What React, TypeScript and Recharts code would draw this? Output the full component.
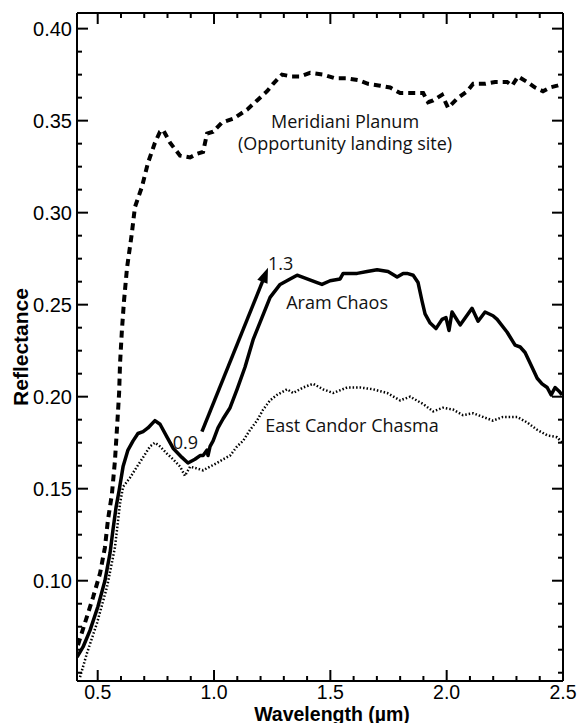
import { LineChart, Line, XAxis, YAxis, ReferenceLine, ReferenceDot } from 'recharts';

// Meridiani Planum (Opportunity landing site) - dashed
const meridianiWl = [0.415, 0.445, 0.48, 0.51, 0.531, 0.544, 0.561, 0.574, 0.583, 0.592, 0.596, 0.604, 0.613, 0.626, 0.647, 0.66, 0.69, 0.716, 0.746, 0.768, 0.781, 0.811, 0.854, 0.897, 0.927, 0.953, 0.97, 0.996, 1.034, 1.082, 1.142, 1.185, 1.228, 1.254, 1.292, 1.335, 1.37, 1.413, 1.469, 1.52, 1.572, 1.619, 1.662, 1.714, 1.757, 1.8, 1.843, 1.899, 1.92, 1.942, 1.98, 2.006, 2.045, 2.088, 2.114, 2.165, 2.208, 2.26, 2.281, 2.307, 2.346, 2.38, 2.414, 2.444, 2.475, 2.5];
const meridianiRefl = [0.065, 0.077, 0.091, 0.104, 0.118, 0.133, 0.147, 0.165, 0.183, 0.202, 0.218, 0.236, 0.252, 0.27, 0.289, 0.303, 0.314, 0.327, 0.338, 0.344, 0.345, 0.338, 0.331, 0.33, 0.332, 0.333, 0.343, 0.344, 0.349, 0.351, 0.356, 0.361, 0.366, 0.37, 0.375, 0.374, 0.374, 0.376, 0.375, 0.373, 0.373, 0.372, 0.37, 0.369, 0.368, 0.365, 0.365, 0.365, 0.36, 0.361, 0.364, 0.357, 0.362, 0.366, 0.37, 0.37, 0.371, 0.371, 0.369, 0.374, 0.371, 0.368, 0.366, 0.368, 0.369, 0.37];

// Aram Chaos - solid
const aramWl = [0.411, 0.437, 0.467, 0.501, 0.531, 0.553, 0.566, 0.579, 0.592, 0.609, 0.63, 0.652, 0.673, 0.695, 0.716, 0.746, 0.768, 0.798, 0.824, 0.862, 0.888, 0.918, 0.94, 0.953, 0.97, 0.974, 0.983, 0.996, 1.017, 1.039, 1.069, 1.099, 1.133, 1.168, 1.206, 1.241, 1.284, 1.327, 1.357, 1.4, 1.443, 1.464, 1.499, 1.542, 1.555, 1.615, 1.658, 1.701, 1.748, 1.787, 1.813, 1.83, 1.856, 1.877, 1.894, 1.907, 1.929, 1.954, 1.98, 1.997, 2.01, 2.023, 2.058, 2.109, 2.135, 2.165, 2.199, 2.217, 2.26, 2.294, 2.316, 2.337, 2.367, 2.389, 2.41, 2.432, 2.449, 2.466, 2.483, 2.496];
const aramRefl = [0.0585, 0.064, 0.073, 0.086, 0.1, 0.115, 0.128, 0.14, 0.149, 0.162, 0.171, 0.176, 0.18, 0.181, 0.183, 0.187, 0.185, 0.178, 0.172, 0.167, 0.164, 0.166, 0.168, 0.168, 0.171, 0.168, 0.173, 0.176, 0.183, 0.188, 0.194, 0.204, 0.216, 0.231, 0.243, 0.254, 0.261, 0.264, 0.266, 0.264, 0.262, 0.261, 0.263, 0.264, 0.267, 0.267, 0.268, 0.269, 0.268, 0.265, 0.267, 0.267, 0.266, 0.262, 0.252, 0.245, 0.24, 0.237, 0.242, 0.243, 0.236, 0.246, 0.239, 0.248, 0.241, 0.246, 0.244, 0.242, 0.235, 0.228, 0.227, 0.224, 0.216, 0.21, 0.207, 0.205, 0.201, 0.205, 0.203, 0.201];

// East Candor Chasma - dotted
const candorWl = [0.424, 0.454, 0.497, 0.54, 0.574, 0.596, 0.609, 0.639, 0.669, 0.695, 0.725, 0.746, 0.768, 0.798, 0.824, 0.854, 0.875, 0.897, 0.927, 0.953, 0.983, 1.013, 1.039, 1.069, 1.099, 1.125, 1.155, 1.185, 1.211, 1.241, 1.271, 1.314, 1.34, 1.383, 1.426, 1.469, 1.512, 1.572, 1.628, 1.684, 1.744, 1.8, 1.843, 1.899, 1.942, 1.984, 2.027, 2.07, 2.114, 2.156, 2.199, 2.242, 2.303, 2.346, 2.389, 2.432, 2.475, 2.496];
const candorRefl = [0.0476, 0.0607, 0.077, 0.0966, 0.118, 0.142, 0.151, 0.156, 0.162, 0.167, 0.173, 0.175, 0.173, 0.169, 0.166, 0.162, 0.157, 0.162, 0.161, 0.16, 0.162, 0.164, 0.166, 0.168, 0.173, 0.176, 0.182, 0.187, 0.193, 0.198, 0.201, 0.204, 0.202, 0.205, 0.207, 0.204, 0.202, 0.205, 0.205, 0.204, 0.202, 0.198, 0.2, 0.196, 0.192, 0.194, 0.193, 0.19, 0.191, 0.189, 0.187, 0.189, 0.189, 0.186, 0.182, 0.179, 0.178, 0.175];

const xMajorTicks = [0.5, 1.0, 1.5, 2.0, 2.5];
const xAllTicks = [0.5, 0.6, 0.7, 0.8, 0.9, 1.0, 1.1, 1.2, 1.3, 1.4, 1.5, 1.6, 1.7, 1.8, 1.9, 2.0, 2.1, 2.2, 2.3, 2.4, 2.5];
const yMajorTicks = [0.1, 0.15, 0.2, 0.25, 0.3, 0.35, 0.4];
const yAllTicks = [0.05, 0.0625, 0.075, 0.0875, 0.1, 0.1125, 0.125, 0.1375, 0.15, 0.1625, 0.175, 0.1875, 0.2, 0.2125, 0.225, 0.2375, 0.25, 0.2625, 0.275, 0.2875, 0.3, 0.3125, 0.325, 0.3375, 0.35, 0.3625, 0.375, 0.3875, 0.4];

// 0.9 -> 1.3 µm slope arrow
const arrowFrom = { x: 0.948, y: 0.181 };
const arrowTo = { x: 1.232, y: 0.27 };

const X_DOMAIN: [number, number] = [0.411, 2.5];
const Y_DOMAIN: [number, number] = [0.0455, 0.4085];

const toPoints = (xs: number[], ys: number[]) => xs.map((x, i) => ({ x, y: ys[i] }));
const meridiani = toPoints(meridianiWl, meridianiRefl);
const aram = toPoints(aramWl, aramRefl);
const candor = toPoints(candorWl, candorRefl);

const axisFont = 'Liberation Sans, Arial, sans-serif';
const noteFont = 'Open Sans, Noto Sans, sans-serif';
const axisStroke = { stroke: '#000', strokeWidth: 2 };
const MAJOR = 11;
const MINOR = 5;

const isMajor = (v: number, majors: number[]) => majors.some((m) => Math.abs(m - v) < 1e-6);

// inward tick marks on both ends of a full-span reference line
const vTicks = (len: number) => (p: any) => {
  const x = Number(p.x1);
  const yb = Math.max(Number(p.y1), Number(p.y2));
  const yt = Math.min(Number(p.y1), Number(p.y2));
  return (
    <g>
      <line x1={x} y1={yb} x2={x} y2={yb - len} stroke="#000" strokeWidth={2} />
      <line x1={x} y1={yt} x2={x} y2={yt + len} stroke="#000" strokeWidth={2} />
    </g>
  );
};
const hTicks = (len: number) => (p: any) => {
  const y = Number(p.y1);
  const xl = Math.min(Number(p.x1), Number(p.x2));
  const xr = Math.max(Number(p.x1), Number(p.x2));
  return (
    <g>
      <line x1={xl} y1={y} x2={xl + len} y2={y} stroke="#000" strokeWidth={2} />
      <line x1={xr} y1={y} x2={xr - len} y2={y} stroke="#000" strokeWidth={2} />
    </g>
  );
};

const bottomLabel = (p: any) => (
  <text x={p.x} y={Number(p.y) + 18} textAnchor="middle" fontFamily={axisFont} fontSize={19.5} fill="#000">
    {Number(p.payload.value).toFixed(1)}
  </text>
);
const leftLabel = (p: any) => (
  <text x={Number(p.x) - 5} y={p.y} dy="0.36em" textAnchor="end" fontFamily={axisFont} fontSize={20} fill="#000">
    {Number(p.payload.value).toFixed(2)}
  </text>
);

const note = (lines: string[], anchor: 'start' | 'middle' | 'end' = 'middle') => (p: any) => (
  <text x={p.cx} y={p.cy} textAnchor={anchor} dominantBaseline="central" fontFamily={noteFont} fontSize={18} fill="#111">
    {lines.map((t, i) => (
      <tspan key={i} x={p.cx} dy={i === 0 ? 0 : 22}>{t}</tspan>
    ))}
  </text>
);

const Arrow = (p: any) => {
  const { x1, y1, x2, y2 } = p;
  const a = Math.atan2(y2 - y1, x2 - x1);
  const len = 15;
  const half = 5.5;
  const bx = x2 - len * Math.cos(a);
  const by = y2 - len * Math.sin(a);
  const pts = `${x2},${y2} ${bx + half * Math.sin(a)},${by - half * Math.cos(a)} ${bx - half * Math.sin(a)},${by + half * Math.cos(a)}`;
  return (
    <g>
      <line x1={x1} y1={y1} x2={bx + 2 * Math.cos(a)} y2={by + 2 * Math.sin(a)} stroke="#000" strokeWidth={3.5} />
      <polygon points={pts} fill="#000" />
    </g>
  );
};

export default function App() {
  return (
    <div style={{ position: 'absolute', left: 0, top: 0, background: '#fff' }}>
      <LineChart width={579} height={723} margin={{ top: 13, right: 16, bottom: 12, left: 17 }}>
        <XAxis
          dataKey="x"
          type="number"
          domain={X_DOMAIN}
          allowDataOverflow
          ticks={xMajorTicks}
          interval={0}
          tick={bottomLabel}
          axisLine={axisStroke}
          tickLine={false}
          tickSize={0}
          tickMargin={0}
          height={30}
          label={(props: any) => {
            const vb = props.viewBox;
            return (
              <text x={vb.x + vb.width / 2 + 12} y={vb.y + 39.5} textAnchor="middle" fontFamily={axisFont} fontWeight="bold" fontSize={19.5} fill="#000">
                Wavelength (µm)
              </text>
            );
          }}
        />
        <YAxis
          dataKey="y"
          type="number"
          domain={Y_DOMAIN}
          allowDataOverflow
          ticks={yMajorTicks}
          interval={0}
          tick={leftLabel}
          axisLine={axisStroke}
          tickLine={false}
          tickSize={0}
          tickMargin={0}
          width={60}
          label={(props: any) => {
            const vb = props.viewBox;
            const cx = vb.x + vb.width - 57;
            const cy = vb.y + vb.height / 2;
            return (
              <text x={cx} y={cy} transform={`rotate(-90 ${cx} ${cy})`} textAnchor="middle" dominantBaseline="central" fontFamily={axisFont} fontWeight="bold" fontSize={21} fill="#000">
                Reflectance
              </text>
            );
          }}
        />
        <XAxis xAxisId="top" orientation="top" type="number" domain={X_DOMAIN} allowDataOverflow tick={false} axisLine={axisStroke} tickLine={false} height={2} mirror />
        <YAxis yAxisId="right" orientation="right" type="number" domain={Y_DOMAIN} allowDataOverflow tick={false} axisLine={axisStroke} tickLine={false} width={2} mirror />

        {xAllTicks.map((v) => (
          <ReferenceLine key={`xt${v}`} x={v} shape={vTicks(isMajor(v, xMajorTicks) ? MAJOR : MINOR)} />
        ))}
        {yAllTicks.map((v) => (
          <ReferenceLine key={`yt${v}`} y={v} shape={hTicks(isMajor(v, yMajorTicks) ? MAJOR : MINOR)} />
        ))}

        <Line data={candor} dataKey="y" type="linear" stroke="#000" strokeWidth={2.5} strokeDasharray="1.5 2" dot={false} isAnimationActive={false} />
        <Line data={aram} dataKey="y" type="linear" stroke="#000" strokeWidth={3.5} strokeLinejoin="round" dot={false} isAnimationActive={false} />
        <Line data={meridiani} dataKey="y" type="linear" stroke="#000" strokeWidth={4} strokeDasharray="7 5" dot={false} isAnimationActive={false} />

        <ReferenceLine segment={[arrowFrom, arrowTo]} shape={Arrow} />

        <ReferenceDot x={1.563} y={0.3498} r={0} shape={note(['Meridiani Planum', '(Opportunity landing site)'])} />
        <ReferenceDot x={1.529} y={0.2514} r={0} shape={note(['Aram Chaos'])} />
        <ReferenceDot x={1.593} y={0.1846} r={0} shape={note(['East Candor Chasma'])} />
        <ReferenceDot x={0.931} y={0.1753} r={0} shape={note(['0.9'], 'end')} />
        <ReferenceDot x={1.232} y={0.2726} r={0} shape={note(['1.3'], 'start')} />
      </LineChart>
    </div>
  );
}
